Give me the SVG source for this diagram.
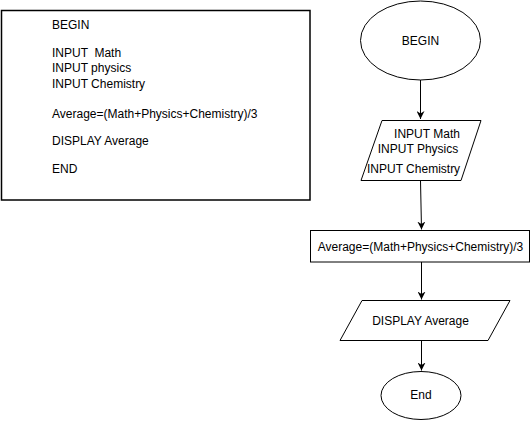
<svg xmlns="http://www.w3.org/2000/svg" width="531" height="421" viewBox="0 0 531 421">
<defs>
<style>
.s{fill:#fff;stroke:#000;stroke-width:1}
.t{font-family:"Liberation Sans",Arial,sans-serif;font-size:12px;fill:#000}
.c{text-anchor:middle}
.e{stroke:#000;stroke-width:1;fill:none;marker-end:url(#a)}
</style>
<marker id="a" viewBox="0 0 10 10" refX="10" refY="5" markerWidth="8" markerHeight="8" markerUnits="userSpaceOnUse" orient="auto">
<path d="M0,0 L10,5 L0,10 L3,5 Z" fill="#000"/>
</marker>
</defs>
<rect width="531" height="421" fill="#fff"/>
<g id="pseudocode">
<rect x="1.5" y="10.5" width="308.5" height="189.5" fill="#fff" stroke="#000" stroke-width="1.5"/>
<text class="t" x="52" y="29">BEGIN</text>
<text class="t" x="52" y="57" xml:space="preserve">INPUT  Math</text>
<text class="t" x="52" y="72">INPUT physics</text>
<text class="t" x="52" y="87.5">INPUT Chemistry</text>
<text class="t" x="52" y="118">Average=(Math+Physics+Chemistry)/3</text>
<text class="t" x="52" y="144.5">DISPLAY Average</text>
<text class="t" x="52" y="173">END</text>
</g>
<g id="begin">
<ellipse class="s" cx="420.5" cy="40.5" rx="60" ry="39.5"/>
<text class="t c" x="420.5" y="45">BEGIN</text>
</g>
<g id="input">
<polygon class="s" points="382,120.5 481,120.5 461,180.5 361,180.5"/>
<text class="t c" x="427" y="138">INPUT Math</text>
<text class="t c" x="418" y="153">INPUT Physics</text>
<text class="t" x="367" y="173">INPUT Chemistry</text>
</g>
<g id="process">
<rect class="s" x="310.5" y="230.5" width="219" height="31.5"/>
<text class="t c" x="420.5" y="251">Average=(Math+Physics+Chemistry)/3</text>
</g>
<g id="display">
<polygon class="s" points="362,300.5 510,300.5 488,340.5 340,340.5"/>
<text class="t c" x="420.5" y="325">DISPLAY Average</text>
</g>
<g id="end">
<ellipse class="s" cx="421" cy="395.5" rx="40" ry="24"/>
<text class="t c" x="421" y="399">End</text>
</g>
<g id="connectors">
<line class="e" x1="420.5" y1="80" x2="420.5" y2="119"/>
<line class="e" x1="420.5" y1="180.5" x2="421.5" y2="229.5"/>
<line class="e" x1="421.5" y1="262" x2="421.5" y2="299.5"/>
<line class="e" x1="421.5" y1="340.5" x2="421.5" y2="370.5"/>
</g>
</svg>
